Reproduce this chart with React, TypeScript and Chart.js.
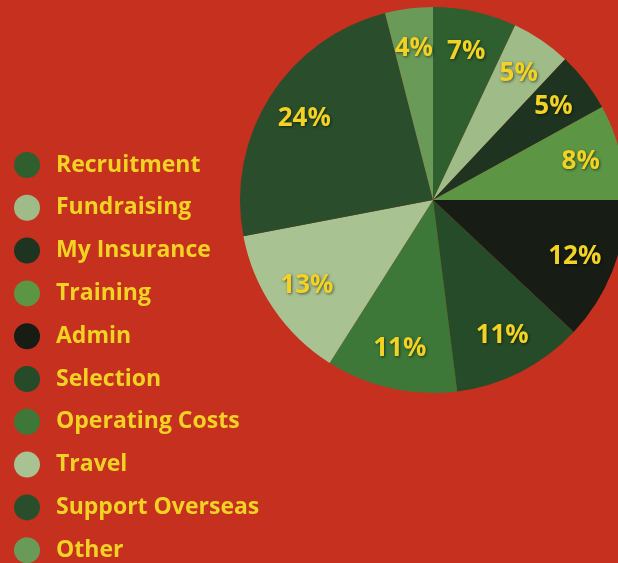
import React, { useEffect, useRef } from "react";
import { Chart, registerables } from "chart.js";

Chart.register(...registerables);

const categories = [
  "Recruitment",
  "Fundraising",
  "My Insurance",
  "Training",
  "Admin",
  "Selection",
  "Operating Costs",
  "Travel",
  "Support Overseas",
  "Other",
];
const shares = [7, 5, 5, 8, 12, 11, 11, 13, 24, 4];
const sliceColors = [
  "#2f5f2e",
  "#9fbb88",
  "#1e3320",
  "#5c9645",
  "#171c15",
  "#264b28",
  "#3d7838",
  "#a9c292",
  "#2a4e2b",
  "#6a9a58",
];

const BG = "#c6301f";
const YELLOW = "#f2d324";
const FONT = "'Open Sans', Lato, sans-serif";

const overlayPlugin = {
  id: "overlay",
  afterDatasetsDraw(chart: any) {
    const ctx = chart.ctx;
    const meta = chart.getDatasetMeta(0);
    ctx.save();
    // percentage labels
    ctx.font = `bold 26px ${FONT}`;
    ctx.textAlign = "center";
    ctx.textBaseline = "middle";
    meta.data.forEach((arc: any, i: number) => {
      const { x, y, startAngle, endAngle, outerRadius } = arc.getProps(
        ["x", "y", "startAngle", "endAngle", "outerRadius"],
        true
      );
      const mid = (startAngle + endAngle) / 2;
      const r = outerRadius * 0.79;
      const lx = x + Math.cos(mid) * r;
      const ly = y + Math.sin(mid) * r;
      ctx.shadowColor = "rgba(0,0,0,0.55)";
      ctx.shadowBlur = 3;
      ctx.shadowOffsetX = 1;
      ctx.shadowOffsetY = 1;
      ctx.fillStyle = YELLOW;
      ctx.fillText(`${shares[i]}%`, lx, ly);
    });
    // legend
    ctx.shadowColor = "transparent";
    ctx.shadowBlur = 0;
    ctx.shadowOffsetX = 0;
    ctx.shadowOffsetY = 0;
    ctx.textAlign = "left";
    ctx.font = `bold 23px ${FONT}`;
    const top = 165;
    const step = 42.8;
    categories.forEach((label, i) => {
      const cy = top + i * step;
      ctx.beginPath();
      ctx.arc(27, cy, 13, 0, Math.PI * 2);
      ctx.fillStyle = sliceColors[i];
      ctx.fill();
      ctx.fillStyle = YELLOW;
      ctx.fillText(label, 56, cy);
    });
    ctx.restore();
  },
};

export default function App() {
  const ref = useRef<HTMLCanvasElement | null>(null);
  useEffect(() => {
    if (!ref.current) return;
    const chart = new Chart(ref.current, {
      type: "pie",
      data: {
        labels: categories,
        datasets: [
          {
            data: shares,
            backgroundColor: sliceColors,
            borderWidth: 0,
          },
        ],
      },
      options: {
        responsive: false,
        animation: false,
        layout: { padding: { left: 240, right: 240, top: 7, bottom: 170 } },
        plugins: {
          legend: { display: false },
          tooltip: { enabled: false },
        },
      },
      plugins: [overlayPlugin],
    });
    return () => chart.destroy();
  }, []);
  return (
    <div
      style={{
        position: "fixed",
        left: 0,
        top: 0,
        width: 618,
        height: 563,
        overflow: "hidden",
        background: BG,
      }}
    >
      <canvas
        ref={ref}
        width={866}
        height={563}
        style={{ position: "absolute", left: 0, top: 0, width: 866, height: 563 }}
      />
    </div>
  );
}
